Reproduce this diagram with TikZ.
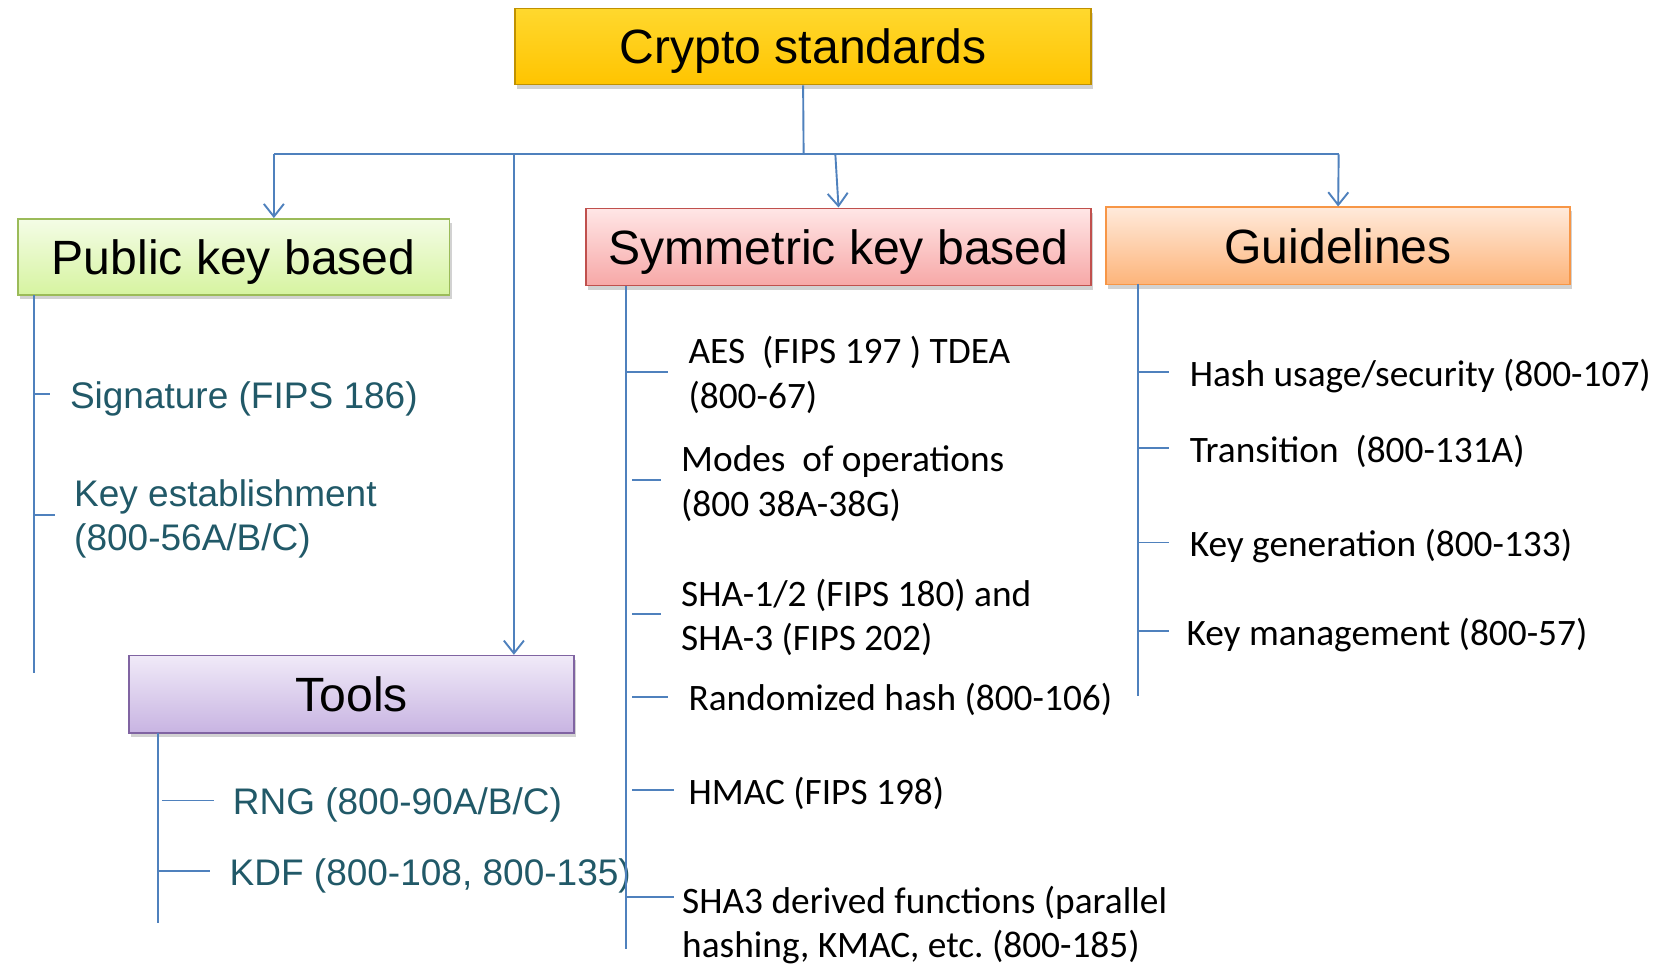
\documentclass[tikz,border=0pt]{standalone}
\usepackage{fontspec}
\setmainfont{Liberation Sans}
\newfontfamily\calibri{Carlito}
\usetikzlibrary{arrows.meta,shadows}
\definecolor{lineblue}{HTML}{4F81BD}
\definecolor{teal}{HTML}{215968}
\definecolor{goldtop}{HTML}{FFD82E}
\definecolor{goldbot}{HTML}{FFC400}
\definecolor{goldbd}{HTML}{C09100}
\definecolor{greentop}{HTML}{F4FCE6}
\definecolor{greenbot}{HTML}{D6F4A0}
\definecolor{greenbd}{HTML}{9BBB59}
\definecolor{pinktop}{HTML}{FFE6E6}
\definecolor{pinkbot}{HTML}{F7A8A7}
\definecolor{pinkbd}{HTML}{C0504D}
\definecolor{orangetop}{HTML}{FFEADB}
\definecolor{orangebot}{HTML}{FDB47A}
\definecolor{orangebd}{HTML}{F79646}
\definecolor{purpletop}{HTML}{F0EAF8}
\definecolor{purplebot}{HTML}{C8B4E2}
\definecolor{purplebd}{HTML}{8064A2}
\tikzset{
  header/.style={draw, line width=1.5pt, inner sep=0pt,
    font=\fontsize{45.5}{52}\selectfont, text height=33pt, text depth=0pt,
    drop shadow={opacity=0.35, shadow xshift=2pt, shadow yshift=-4pt}},
  conn/.style={draw=lineblue, line width=1.8pt},
  arr/.style={conn, -{Straight Barb[length=12pt, width=19pt, line width=1.8pt]}},
  tealitem/.style={anchor=west, inner sep=0pt, text=teal, align=left, yshift=-4pt,
    font=\fontsize{35}{42}\selectfont},
  blackitem/.style={anchor=west, inner sep=0pt, text=black, align=left, yshift=-2.5pt,
    font=\calibri\fontsize{35.3}{42}\selectfont},
}
\begin{document}
\frenchspacing
\begin{tikzpicture}[x=1pt, y=-1pt]
\useasboundingbox (0,0) rectangle (1568,913);
\fill[white] (0,0) rectangle (1568,913);

% header boxes
\node[header, draw=goldbd, top color=goldtop, bottom color=goldbot,
  minimum width=545pt, minimum height=72pt] (crypto) at (759.5,44) {Crypto standards};
\node[header, draw=greenbd, top color=greentop, bottom color=greenbot,
  minimum width=408pt, minimum height=72pt] (pub) at (221,243) {Public key based};
\node[header, draw=pinkbd, top color=pinktop, bottom color=pinkbot,
  minimum width=478pt, minimum height=73pt] (sym) at (793,233.5) {Symmetric key based};
\node[header, draw=orangebd, top color=orangetop, bottom color=orangebot,
  minimum width=439pt, minimum height=73pt] (guid) at (1265.5,232.5) {Guidelines};
\node[header, draw=purplebd, top color=purpletop, bottom color=purplebot,
  minimum width=421pt, minimum height=73pt] (tools) at (332.5,656.5) {Tools};

% tree connectors
\coordinate (hub) at (760,146);
\coordinate (barL) at (259,146);
\coordinate (barR) at (1266,146);
\coordinate (toolsTop) at (486,146);
\coordinate (symTop) at (790,146);
\draw[conn] (crypto.south) -- (hub);
\draw[conn] (barL) -- (barR);
\draw[arr] (barL) -- (barL |- pub.north);
\draw[arr] (toolsTop) -- (toolsTop |- tools.north);
\draw[arr] (symTop) -- (sym.north);
\draw[arr] (barR) -- (guid.north);

% public key items
\coordinate (pubS1) at (32,279);
\coordinate (pubS2) at (32,636);
\draw[conn] (pubS1) -- (pubS2);
\draw[conn] (32,373) -- (47,373);
\draw[conn] (32,487) -- (52,487);
\node[tealitem] (sig) at (66,373) {Signature (FIPS 186)};
\node[tealitem] (kest) at (70,487) {Key establishment\\(800-56A/B/C)};

% tools items
\coordinate (toolS1) at (149,693);
\coordinate (toolS2) at (149,873);
\draw[conn] (toolS1) -- (toolS2);
\draw[conn] (153,757) -- (202,757);
\draw[conn] (149,824) -- (199,824);
\node[tealitem] (rng) at (220,757) {RNG (800-90A/B/C)};
\node[tealitem] (kdf) at (217,824) {KDF (800-108, 800-135)};

% symmetric items
\coordinate (symS1) at (592,270);
\coordinate (symS2) at (592,897);
\draw[conn] (symS1) -- (symS2);
\draw[conn] (592,352) -- (632,352);
\draw[conn] (598,454) -- (625,454);
\draw[conn] (598,581) -- (625,581);
\draw[conn] (598,659) -- (632,659);
\draw[conn] (598,747) -- (637,747);
\draw[conn] (592,848) -- (637,848);
\node[blackitem] (aes) at (651,352) {AES\ \ (FIPS 197 ) TDEA\\(800-67)};
\node[blackitem] (modes) at (644,455) {Modes\ \ of operations\\(800 38A-38G)};
\node[blackitem] (sha) at (644,581.5) {SHA-1/2 (FIPS 180) and\\SHA-3 (FIPS 202)};
\node[blackitem] (rand) at (651,659) {Randomized hash (800-106)};
\node[blackitem] (hmac) at (651,748) {HMAC (FIPS 198)};
\node[blackitem] (sha3d) at (645,872.5) {SHA3 derived functions (parallel\\hashing, KMAC, etc. (800-185)};

% guideline items
\coordinate (guidS1) at (1076,269);
\coordinate (guidS2) at (1076,658);
\draw[conn] (guidS1) -- (guidS2);
\draw[conn] (1076,352) -- (1106,352);
\draw[conn] (1076,424) -- (1106,424);
\draw[conn] (1076,513) -- (1106,513);
\draw[conn] (1076,597) -- (1106,597);
\node[blackitem] (hashu) at (1125,353) {Hash usage/security (800-107)};
\node[blackitem] (trans) at (1125,424) {Transition\ \ (800-131A)};
\node[blackitem] (kgen) at (1125,514) {Key generation (800-133)};
\node[blackitem] (kmgmt) at (1122,598) {Key management (800-57)};
\end{tikzpicture}
\end{document}
